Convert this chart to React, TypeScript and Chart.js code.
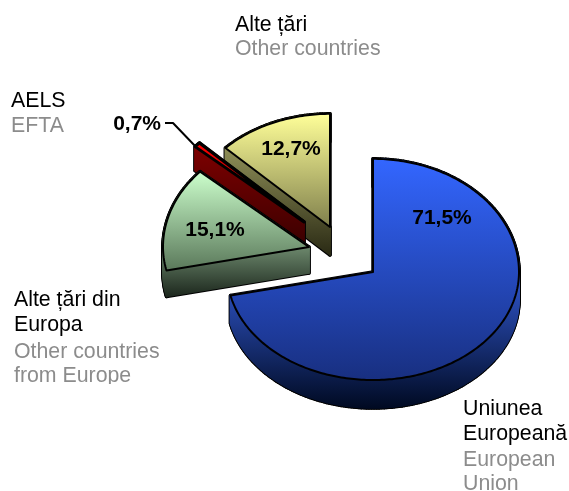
import React, { useEffect, useRef } from "react";
import { Chart, registerables } from "chart.js";

Chart.register(...registerables);

const categories = ["Uniunea Europeană", "Alte țări din Europa", "AELS", "Alte țări"];
const values = [71.5, 15.1, 0.7, 12.7];

const faceTop = ["#3366FF", "#CCFFCC", "#FF0000", "#FFFF99"];
const faceBottom = ["#182F80", "#5A785A", "#800000", "#80804C"];
const wallTop = ["#2A4DB8", "#6E8A6E", "#800000", "#8F8F58"];
const wallBottom = ["#000A22", "#1C271D", "#3A0000", "#2A2A14"];
const wallStart = [0.6, 0.75, 0, 0.3];
const shift = [[29, 17], [-35, -8], [-40, -33], [-14, -28]];
const depth = [28, 26, 24, 28];
const faceStroke = [2, 2, 3, 2];
const drawOrder = [3, 2, 1, 0];
const valueAnchor = [[442, 224], [215, 236], [161, 130], [291, 155]];

const textBlocks = [
  { x: 235, lines: [["Alte țări", 31], ["Other countries", 55]], black: 1 },
  { x: 11, lines: [["AELS", 107], ["EFTA", 132]], black: 1 },
  { x: 14, lines: [["Alte țări din", 306], ["Europa", 331], ["Other countries", 358], ["from Europe", 382]], black: 2, clipBottom: 384 },
  { x: 463, lines: [["Uniunea", 415], ["Europeană", 440], ["European", 466], ["Union", 490]], black: 2 },
];

const FONT = '"Liberation Sans", Arial, sans-serif';

const piePlugin = {
  id: "pie3d",
  beforeDatasetsDraw(chart: any) {
    const ctx = chart.ctx as CanvasRenderingContext2D;
    const arcs = chart.getDatasetMeta(0).data;
    ctx.save();
    ctx.lineJoin = "round";
    for (const i of drawOrder) {
      const arc = arcs[i];
      const { x, y, startAngle, endAngle, outerRadius } = arc.getProps(["x", "y", "startAngle", "endAngle", "outerRadius"], true);
      const cx = x + shift[i][0];
      const cy = y + shift[i][1];
      const d = depth[i];
      const pts: [number, number][] = [[cx, cy]];
      const steps = Math.max(4, Math.ceil(((endAngle - startAngle) * 180) / Math.PI));
      for (let s = 0; s <= steps; s++) {
        const a = startAngle + ((endAngle - startAngle) * s) / steps;
        const sn = Math.sin(a);
        pts.push([cx + outerRadius * Math.cos(a), cy + outerRadius * sn * (sn < 0 ? 0.775 : 0.74)]);
      }
      const minY = Math.min(...pts.map((p) => p[1]));
      const maxY = Math.max(...pts.map((p) => p[1]));

      const wallGrad = ctx.createLinearGradient(0, minY + (maxY - minY) * wallStart[i], 0, maxY + d);
      wallGrad.addColorStop(0, wallTop[i]);
      wallGrad.addColorStop(1, wallBottom[i]);
      const quad = (k: number) => {
        const p = pts[k];
        const q = pts[(k + 1) % pts.length];
        ctx.beginPath();
        ctx.moveTo(p[0], p[1]);
        ctx.lineTo(q[0], q[1]);
        ctx.lineTo(q[0], q[1] + d);
        ctx.lineTo(p[0], p[1] + d);
        ctx.closePath();
      };
      ctx.strokeStyle = "#000";
      ctx.lineWidth = 3.5;
      for (let k = 0; k < pts.length; k++) {
        quad(k);
        ctx.stroke();
      }
      ctx.fillStyle = wallGrad;
      ctx.strokeStyle = wallGrad;
      ctx.lineWidth = 1.5;
      for (let k = 0; k < pts.length; k++) {
        quad(k);
        ctx.fill();
        ctx.stroke();
      }

      const faceGrad = ctx.createLinearGradient(0, minY, 0, maxY);
      faceGrad.addColorStop(0, faceTop[i]);
      faceGrad.addColorStop(1, faceBottom[i]);
      ctx.beginPath();
      pts.forEach((p, k) => (k ? ctx.lineTo(p[0], p[1]) : ctx.moveTo(p[0], p[1])));
      ctx.closePath();
      ctx.fillStyle = faceGrad;
      ctx.fill();
      ctx.strokeStyle = "#000";
      ctx.lineWidth = faceStroke[i];
      ctx.stroke();
    }

    // leader line of the small slice
    ctx.beginPath();
    ctx.moveTo(165, 123);
    ctx.lineTo(173, 123);
    ctx.lineTo(197, 148);
    ctx.strokeStyle = "#000";
    ctx.lineWidth = 2;
    ctx.stroke();

    // value labels
    ctx.fillStyle = "#000";
    ctx.font = `bold 21px ${FONT}`;
    ctx.textBaseline = "alphabetic";
    values.forEach((v, i) => {
      ctx.textAlign = i === 2 ? "right" : "center";
      ctx.fillText(`${v.toFixed(1).replace(".", ",")}%`, valueAnchor[i][0], valueAnchor[i][1]);
    });

    // category labels
    ctx.font = `21.3px ${FONT}`;
    ctx.textAlign = "left";
    for (const block of textBlocks) {
      ctx.save();
      if (block.clipBottom) {
        ctx.beginPath();
        ctx.rect(0, 0, 569, block.clipBottom);
        ctx.clip();
      }
      block.lines.forEach(([t, by], k) => {
        ctx.fillStyle = k < block.black ? "#000" : "#8C8C8C";
        ctx.fillText(t as string, block.x, by as number);
      });
      ctx.restore();
    }
    ctx.restore();
    return false;
  },
};

export default function App() {
  const ref = useRef<HTMLCanvasElement>(null);
  useEffect(() => {
    const chart = new Chart(ref.current!, {
      type: "pie",
      data: {
        labels: categories,
        datasets: [{ data: values, backgroundColor: faceTop, borderWidth: 0 }],
      },
      options: {
        animation: false,
        responsive: false,
        layout: { padding: { left: 198, right: 79, top: 109, bottom: 90 } },
        plugins: { legend: { display: false }, tooltip: { enabled: false } },
      },
      plugins: [piePlugin],
    } as any);
    return () => chart.destroy();
  }, []);
  return (
    <div style={{ position: "absolute", left: 0, top: 0, width: 569, height: 491, background: "#fff" }}>
      <canvas ref={ref} width={569} height={491} style={{ display: "block" }} />
    </div>
  );
}
